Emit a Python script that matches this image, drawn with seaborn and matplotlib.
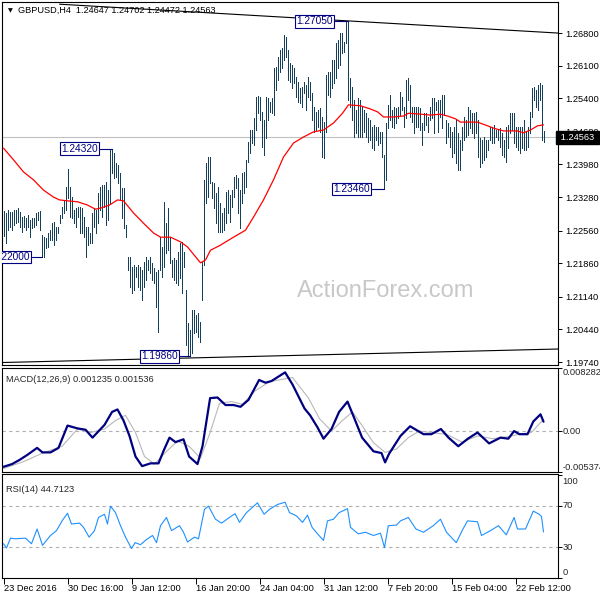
import numpy as np
import pandas as pd
import matplotlib
matplotlib.use("Agg")
import matplotlib.pyplot as plt
import matplotlib.transforms as mtransforms
import seaborn as sns

# ---------------- data ----------------
highs = [
    1.2298, 1.2294, 1.2300, 1.2296, 1.2296, 1.2300, 1.2300, 1.2305, 1.2296, 1.2285,
    1.2287, 1.2283, 1.2290, 1.2279, 1.2283, 1.2283, 1.2294, 1.2296, 1.2298, 1.2247,
    1.2242, 1.2240, 1.2251, 1.2257, 1.2272, 1.2275, 1.2264, 1.2264, 1.2290, 1.2307,
    1.2322, 1.2350, 1.2388, 1.2350, 1.2328, 1.2300, 1.2305, 1.2307, 1.2307, 1.2305,
    1.2285, 1.2264, 1.2264, 1.2251, 1.2294, 1.2305, 1.2300, 1.2337, 1.2350, 1.2354,
    1.2354, 1.2360, 1.2343, 1.2429, 1.2432, 1.2423, 1.2401, 1.2397, 1.2380, 1.2348,
    1.2348, 1.2268, 1.2200, 1.2200, 1.2178, 1.2182, 1.2178, 1.2182, 1.2178, 1.2172,
    1.2189, 1.2200, 1.2193, 1.2200, 1.2187, 1.2176, 1.2167, 1.2172, 1.2242, 1.2221,
    1.2318, 1.2272, 1.2305, 1.2242, 1.2193, 1.2197, 1.2193, 1.2210, 1.2230, 1.2232,
    1.2210, 1.2129, 1.2058, 1.2043, 1.2086, 1.2086, 1.2075, 1.2079, 1.2060, 1.2189,
    1.2365, 1.2401, 1.2414, 1.2414, 1.2360, 1.2358, 1.2337, 1.2350, 1.2315, 1.2294,
    1.2305, 1.2339, 1.2343, 1.2333, 1.2343, 1.2371, 1.2375, 1.2369, 1.2343, 1.2380,
    1.2382, 1.2408, 1.2446, 1.2472, 1.2472, 1.2498, 1.2543, 1.2545, 1.2543, 1.2511,
    1.2493, 1.2543, 1.2541, 1.2532, 1.2541, 1.2605, 1.2607, 1.2629, 1.2644, 1.2648,
    1.2676, 1.2672, 1.2644, 1.2616, 1.2611, 1.2605, 1.2586, 1.2575, 1.2562, 1.2564,
    1.2575, 1.2569, 1.2586, 1.2575, 1.2551, 1.2521, 1.2511, 1.2515, 1.2519, 1.2500,
    1.2489, 1.2590, 1.2597, 1.2597, 1.2622, 1.2622, 1.2659, 1.2665, 1.2680, 1.2680,
    1.2661, 1.2704, 1.2705, 1.2584, 1.2564, 1.2536, 1.2515, 1.2541, 1.2536, 1.2521,
    1.2515, 1.2508, 1.2498, 1.2493, 1.2478, 1.2483, 1.2478, 1.2478, 1.2468, 1.2468,
    1.2418, 1.2487, 1.2526, 1.2547, 1.2515, 1.2521, 1.2519, 1.2521, 1.2554, 1.2543,
    1.2521, 1.2579, 1.2584, 1.2569, 1.2521, 1.2521, 1.2521, 1.2521, 1.2519, 1.2487,
    1.2508, 1.2508, 1.2500, 1.2521, 1.2541, 1.2541, 1.2532, 1.2536, 1.2536, 1.2547,
    1.2547, 1.2493, 1.2487, 1.2478, 1.2468, 1.2478, 1.2493, 1.2466, 1.2451, 1.2478,
    1.2500, 1.2493, 1.2521, 1.2515, 1.2508, 1.2508, 1.2511, 1.2493, 1.2455, 1.2451,
    1.2457, 1.2451, 1.2451, 1.2478, 1.2478, 1.2483, 1.2472, 1.2472, 1.2476, 1.2466,
    1.2451, 1.2478, 1.2483, 1.2508, 1.2508, 1.2508, 1.2478, 1.2478, 1.2478, 1.2478,
    1.2493, 1.2468, 1.2478, 1.2511, 1.2562, 1.2564, 1.2558, 1.2569, 1.2573, 1.2569,
    1.24702,
]
lows = [
    1.2245, 1.2230, 1.2257, 1.2264, 1.2257, 1.2268, 1.2272, 1.2275, 1.2264, 1.2253,
    1.2264, 1.2257, 1.2264, 1.2242, 1.2262, 1.2264, 1.2268, 1.2279, 1.2257, 1.2200,
    1.2200, 1.2219, 1.2221, 1.2236, 1.2236, 1.2225, 1.2236, 1.2251, 1.2272, 1.2283,
    1.2294, 1.2300, 1.2326, 1.2285, 1.2283, 1.2272, 1.2264, 1.2285, 1.2251, 1.2251,
    1.2242, 1.2200, 1.2225, 1.2230, 1.2230, 1.2264, 1.2251, 1.2272, 1.2300, 1.2285,
    1.2307, 1.2268, 1.2279, 1.2315, 1.2380, 1.2369, 1.2371, 1.2358, 1.2322, 1.2283,
    1.2262, 1.2242, 1.2172, 1.2135, 1.2122, 1.2129, 1.2157, 1.2135, 1.2129, 1.2107,
    1.2135, 1.2150, 1.2172, 1.2165, 1.2150, 1.2144, 1.2092, 1.2039, 1.2172, 1.2157,
    1.2178, 1.2208, 1.2214, 1.2187, 1.2157, 1.2150, 1.2144, 1.2139, 1.2154, 1.2122,
    1.2178, 1.2011, 1.1989, 1.1986, 1.1994, 1.2036, 1.2039, 1.2028, 1.2017, 1.2107,
    1.2182, 1.2315, 1.2328, 1.2358, 1.2326, 1.2305, 1.2272, 1.2253, 1.2253, 1.2253,
    1.2257, 1.2272, 1.2294, 1.2275, 1.2307, 1.2328, 1.2348, 1.2294, 1.2262, 1.2315,
    1.2337, 1.2350, 1.2403, 1.2423, 1.2444, 1.2440, 1.2472, 1.2508, 1.2493, 1.2436,
    1.2418, 1.2455, 1.2493, 1.2511, 1.2508, 1.2504, 1.2558, 1.2579, 1.2597, 1.2605,
    1.2622, 1.2629, 1.2579, 1.2575, 1.2562, 1.2573, 1.2543, 1.2532, 1.2530, 1.2521,
    1.2551, 1.2515, 1.2543, 1.2536, 1.2493, 1.2468, 1.2472, 1.2478, 1.2468, 1.2414,
    1.2412, 1.2468, 1.2547, 1.2543, 1.2562, 1.2573, 1.2584, 1.2605, 1.2611, 1.2637,
    1.2639, 1.2659, 1.2536, 1.2521, 1.2493, 1.2457, 1.2466, 1.2457, 1.2457, 1.2457,
    1.2468, 1.2457, 1.2446, 1.2451, 1.2433, 1.2429, 1.2451, 1.2440, 1.2444, 1.2414,
    1.2346, 1.2365, 1.2476, 1.2493, 1.2478, 1.2476, 1.2487, 1.2498, 1.2504, 1.2515,
    1.2478, 1.2498, 1.2536, 1.2500, 1.2489, 1.2466, 1.2478, 1.2478, 1.2472, 1.2440,
    1.2472, 1.2483, 1.2468, 1.2493, 1.2498, 1.2466, 1.2515, 1.2468, 1.2500, 1.2476,
    1.2504, 1.2444, 1.2457, 1.2436, 1.2414, 1.2423, 1.2401, 1.2386, 1.2386, 1.2429,
    1.2451, 1.2457, 1.2461, 1.2476, 1.2466, 1.2455, 1.2466, 1.2414, 1.2393, 1.2401,
    1.2408, 1.2414, 1.2429, 1.2451, 1.2444, 1.2444, 1.2457, 1.2451, 1.2436, 1.2418,
    1.2414, 1.2403, 1.2433, 1.2466, 1.2472, 1.2444, 1.2436, 1.2429, 1.2423, 1.2433,
    1.2429, 1.2429, 1.2436, 1.2466, 1.2500, 1.2536, 1.2521, 1.2515, 1.2536, 1.2451,
    1.24472,
]

# moving average (red line), read at bar positions
ma_idx = [0, 5, 10, 15, 20, 25, 28, 32, 37, 42, 46, 49, 53, 57, 60, 65, 70, 75, 78.5,
          83.5, 88.5, 92, 98.5, 101, 103.5, 108.5, 115, 121, 125, 130, 135, 140, 145,
          150, 155, 160, 165, 169.5, 172.5, 178.5, 183.5, 187, 190, 195, 200, 202.5,
          208.5, 213.5, 218.5, 222, 226, 228.5, 237, 242, 245, 250, 257, 260, 263.5,
          267, 270]
ma_val = [1.2433, 1.2408, 1.2382, 1.2365, 1.2343, 1.2328, 1.2322, 1.2320, 1.2318, 1.2311,
          1.2302, 1.2305, 1.2311, 1.2322, 1.2320, 1.2294, 1.2272, 1.2251, 1.2242,
          1.2242, 1.2232, 1.2221, 1.2187, 1.2193, 1.2214, 1.2225, 1.2242, 1.2257, 1.2285,
          1.2322, 1.2365, 1.2414, 1.2444, 1.2457, 1.2468, 1.2472, 1.2487, 1.2508, 1.2526,
          1.2524, 1.2517, 1.2511, 1.2500, 1.2500, 1.2502, 1.2508, 1.2506, 1.2504, 1.2506,
          1.2502, 1.2496, 1.2489, 1.2489, 1.2481, 1.2476, 1.2470, 1.2470, 1.2466, 1.2472,
          1.2481, 1.2483]

# MACD main line and signal line
macd_idx = [0, 4.3, 8, 12, 16.8, 19.5, 23.5, 27.5, 32, 37, 41, 44.5, 50.5, 54.3, 57, 60,
            63, 66, 69.3, 73.5, 77.5, 80.3, 83, 86, 90, 92.8, 97, 99.5, 103.3, 107, 111,
            115, 118.5, 122.5, 127.8, 131, 134, 140.8, 144.5, 150.5, 153.3, 157, 160, 164,
            167.8, 172, 175.5, 179.3, 185, 189, 190.8, 192.8, 198.5, 203.3, 206.2, 210,
            213.9, 218.7, 222.5, 227.4, 232.2, 237, 242.8, 248.5, 252.4, 255.3, 258, 262,
            264.9, 268.5, 270]
macd_val = [-0.00469, -0.00433, -0.00379, -0.00311, -0.00221, -0.00280, -0.00280, -0.00221,
            0.00072, 0.00035, 0.00018, -0.00086, 0.00081, 0.00252, 0.00284, 0.00139,
            -0.00064, -0.00334, -0.00460, -0.00424, -0.00424, -0.00243, -0.00086, -0.00145,
            -0.00108, -0.00334, -0.00433, -0.00199, 0.00433, 0.00441, 0.00342, 0.00342,
            0.00319, 0.00410, 0.00671, 0.00635, 0.00657, 0.00771, 0.00612, 0.00297,
            0.00207, 0.00049, -0.00100, 0.00027, 0.00252, 0.00387, 0.00162, -0.00086,
            -0.00266, -0.00289, -0.00411, -0.00297, -0.00064, 0.00063, 0.00018, -0.00041,
            -0.00041, 0.00027, -0.00086, -0.00199, -0.00100, -0.00019, -0.00162, -0.00086,
            -0.00100, 0.00000, -0.00041, -0.00041, 0.00126, 0.00220, 0.001235]
sig_idx = [0, 10, 19.5, 29.3, 37, 43.5, 50.5, 56, 61, 66, 70.5, 75.5, 81, 87, 92.8, 98.5,
           103.3, 108, 114, 119.5, 125.5, 133, 144.5, 152.5, 158, 164, 169.5, 174.5,
           179.3, 185, 190.8, 196.5, 202.4, 208, 215.8, 221.5, 229.3, 237, 244.5, 252.4,
           258, 263.9, 270]
sig_val = [-0.00492, -0.00402, -0.00289, -0.00199, 0.00027, -0.00019, 0.00027, 0.00139,
           0.00207, -0.00019, -0.00334, -0.00433, -0.00280, -0.00131, -0.00199, -0.00357,
           -0.00019, 0.00365, 0.00387, 0.00352, 0.00522, 0.00649, 0.00703, 0.00433,
           0.00162, 0.00000, 0.00139, 0.00252, 0.00072, -0.00154, -0.00280, -0.00235,
           -0.00086, 0.00000, -0.00027, -0.00041, -0.00145, -0.00064, -0.00100, -0.00073,
           -0.00041, -0.00019, 0.001536]

# RSI(14)
rsi_idx = [0, 1.5, 3.5, 6, 11, 14, 16.8, 19.5, 23.5, 26.5, 29.3, 32, 34, 38, 40, 42.8,
           45.5, 47.5, 50.5, 52, 53.5, 56, 58.5, 61, 64, 65.8, 68.5, 71.5, 74.5, 76.5,
           78.5, 81.5, 84, 88, 90, 92, 95.5, 97.5, 100.5, 102.5, 106, 109, 113, 115.8,
           118, 121.5, 127, 130.3, 133, 137, 140.8, 143, 146.5, 149.5, 152, 154.3, 157,
           160, 162, 165, 167.8, 172, 173.5, 177.4, 181, 185, 188.5, 190.5, 192.4, 196.5,
           198.5, 202.4, 206.2, 210, 214.9, 218.5, 221.5, 226.4, 229.3, 232, 237, 239,
           243.5, 247.5, 251.4, 255.3, 257, 261, 264.9, 267.8, 269, 270]
rsi_val = [33.3, 29.2, 38.7, 38.1, 38.7, 33.3, 47.6, 31.7, 41.3, 46.0, 55.5, 62.9, 52.4,
           53.3, 49.2, 39.7, 46.0, 58.8, 61.9, 52.4, 69.8, 63.5, 50.8, 39.7, 28.6, 34.3,
           32.4, 37.4, 41.3, 34.3, 50.8, 58.8, 46.0, 50.8, 44.4, 35.0, 39.7, 38.1, 66.7,
           69.8, 57.1, 53.3, 58.8, 62.5, 54.0, 63.5, 73.0, 61.9, 66.7, 71.4, 73.6, 63.5,
           60.3, 54.0, 61.0, 49.2, 42.9, 36.5, 55.5, 57.1, 63.5, 67.3, 49.2, 42.9, 44.4,
           41.3, 43.5, 29.5, 50.8, 51.4, 55.5, 58.8, 47.6, 44.4, 50.8, 57.1, 44.4, 34.3,
           46.0, 55.5, 54.6, 41.3, 46.0, 50.8, 41.9, 58.8, 47.6, 47.6, 65.0, 61.9, 59.7,
           44.7123]

# trend lines (bar index, price)
upper_tl_idx = [28, 277.5]
upper_tl_val = [1.2742, 1.2680]
lower_tl_idx = [-0.75, 277.25]
lower_tl_val = [1.1973, 1.2002]

# labelled swing points: (text, box right edge idx, bar idx, price)
swing_text = ["1.24320", "1.22000", "1.27050", "1.23460", "1.19860"]
swing_box_idx = [48.0, 14.0, 165.5, 184.0, 88.0]
swing_bar_idx = [54, 19, 172, 190, 93]
swing_price = [1.2432, 1.2200, 1.2705, 1.2346, 1.1986]

last_price = 1.24563
header = "GBPUSD,H4  1.24647 1.24702 1.24472 1.24563"
macd_header = "MACD(12,26,9) 0.001235 0.001536"
rsi_header = "RSI(14) 44.7123"

price_ticks = [1.26800, 1.26100, 1.25400, 1.24680, 1.23980, 1.23280,
               1.22560, 1.21860, 1.21140, 1.20440, 1.19740]
date_idx = [0, 32, 64, 96, 128, 160, 192, 224, 256]
date_labels = ["23 Dec 2016", "30 Dec 16:00", "9 Jan 12:00", "16 Jan 20:00",
               "24 Jan 04:00", "31 Jan 12:00", "7 Feb 20:00", "15 Feb 04:00",
               "22 Feb 12:00"]

# ---------------- styling ----------------
sns.set_style("white")
plt.rcParams['font.family'] = ['Liberation Sans', 'DejaVu Sans']
FS = 6.7
BAR = '#14405C'
NAVY = '#000080'

W = 600.0
def rect(x0, y0, x1, y1):
    return [x0 / W, 1 - y1 / W, (x1 - x0) / W, (y1 - y0) / W]

fig = plt.figure(figsize=(6, 6), dpi=100)
ax = fig.add_axes(rect(2, 2, 558, 365))
axm = fig.add_axes(rect(2, 368, 558, 472))
axr = fig.add_axes(rect(2, 474, 558, 578))

XL = (-0.75, 277.25)
for a in (ax, axm, axr):
    a.set_xlim(*XL)
    for s in a.spines.values():
        s.set_color('black')
        s.set_linewidth(0.8)
        s.set_visible(True)
    a.set_facecolor('white')
    a.yaxis.tick_right()
    a.tick_params(axis='y', direction='out', length=3, width=0.7, pad=2,
                  labelsize=FS, colors='black', right=True, left=False)
    a.tick_params(axis='x', bottom=False, labelbottom=False)

# ---- main price panel ----
ax.set_ylim(1.19677, 1.27467)
ax.axhline(last_price, color='#c0c0c0', lw=0.8, zorder=0.5)
ax.text(0.69, 0.205, "ActionForex.com", transform=ax.transAxes, ha='center', va='center',
        fontsize=17, color='#c8c8c8', zorder=0.3)
idx = np.arange(len(highs))
ax.vlines(idx, lows, highs, color=BAR, lw=0.5, antialiased=False, zorder=2)
ma_df = pd.DataFrame({'i': ma_idx, 'v': ma_val})
sns.lineplot(data=ma_df, x='i', y='v', ax=ax, color='#ff0000', lw=0.9,
             estimator=None, sort=False, legend=False, zorder=3)
ax.plot(upper_tl_idx, upper_tl_val, color='black', lw=0.8, zorder=3)
ax.plot(lower_tl_idx, lower_tl_val, color='black', lw=0.8, zorder=3)
for t, bx, bi, p in zip(swing_text, swing_box_idx, swing_bar_idx, swing_price):
    ax.plot([bx, bi], [p, p], color=NAVY, lw=0.8, zorder=4)
    ax.text(bx - 1.0, p, t, ha='right', va='center', fontsize=7.3, color=NAVY,
            bbox=dict(boxstyle='square,pad=0.12', fc='white', ec=NAVY, lw=0.8),
            clip_on=True, zorder=5)
ax.set_yticks(price_ticks)
ax.set_yticklabels([f"{v:.5f}" for v in price_ticks])
ax.set_xlabel(''); ax.set_ylabel('')
btr = mtransforms.blended_transform_factory(ax.transAxes, ax.transData)
ax.text(1.0, last_price, " 1.24563 ", transform=btr, ha='left', va='center',
        fontsize=FS, color='white',
        bbox=dict(boxstyle='square,pad=0.2', fc='black', ec='black'),
        clip_on=False, zorder=10)
fig.text(7.5 / W, 1 - 10.5 / W, "\u25BC", fontsize=4.5, ha='left', va='center',
         family='DejaVu Sans', color='black')
fig.text(18 / W, 1 - 10.5 / W, header, fontsize=6.6, ha='left', va='center', color='black')

# ---- MACD panel ----
axm.set_ylim(-0.005374, 0.008282)
axm.axhline(0, color='#b0b0b0', lw=0.8, ls=(0, (3, 3)), zorder=0.5)
sig_df = pd.DataFrame({'i': sig_idx, 'v': sig_val})
macd_df = pd.DataFrame({'i': macd_idx, 'v': macd_val})
sns.lineplot(data=sig_df, x='i', y='v', ax=axm, color='#b8b8b8', lw=0.8,
             estimator=None, sort=False, legend=False)
sns.lineplot(data=macd_df, x='i', y='v', ax=axm, color=NAVY, lw=1.6,
             estimator=None, sort=False, legend=False)
axm.set_yticks([-0.005374, 0, 0.008282])
axm.set_yticklabels(['', '', ''])
bm = mtransforms.blended_transform_factory(axm.transAxes, axm.transData)
axm.text(1.008, 0.008282, "0.008282", transform=bm, ha='left', va='top', fontsize=FS, clip_on=False)
axm.text(1.008, 0.0, "0.00", transform=bm, ha='left', va='center', fontsize=FS, clip_on=False)
axm.text(1.008, -0.005374, "-0.005374", transform=bm, ha='left', va='bottom', fontsize=FS, clip_on=False)
axm.text(0.008, 0.93, macd_header, transform=axm.transAxes, ha='left', va='top', fontsize=FS)
axm.set_xlabel(''); axm.set_ylabel('')

# ---- RSI panel ----
axr.set_ylim(0, 101)
for lv in (30, 70):
    axr.axhline(lv, color='#b0b0b0', lw=0.8, ls=(0, (3, 3)), zorder=0.5)
rsi_df = pd.DataFrame({'i': rsi_idx, 'v': rsi_val})
sns.lineplot(data=rsi_df, x='i', y='v', ax=axr, color='#1E90FF', lw=0.8,
             estimator=None, sort=False, legend=False)
axr.set_yticks([0, 30, 70, 100])
axr.set_yticklabels(['', '', '', ''])
br = mtransforms.blended_transform_factory(axr.transAxes, axr.transData)
axr.text(1.008, 93.5, "100", transform=br, ha='left', va='center', fontsize=FS, clip_on=False)
axr.text(1.008, 70, "70", transform=br, ha='left', va='center', fontsize=FS, clip_on=False)
axr.text(1.008, 30, "30", transform=br, ha='left', va='center', fontsize=FS, clip_on=False)
axr.text(1.008, 5.5, "0", transform=br, ha='left', va='center', fontsize=FS, clip_on=False)
axr.text(0.008, 0.89, rsi_header, transform=axr.transAxes, ha='left', va='top', fontsize=FS)
axr.set_xticks(date_idx)
axr.set_xticklabels(date_labels, ha='left')
axr.tick_params(axis='x', bottom=True, labelbottom=True, direction='out', length=4,
                width=0.7, pad=0.5, labelsize=FS, colors='black')
axr.set_xlabel(''); axr.set_ylabel('')

fig.savefig("out.png", dpi=100)
